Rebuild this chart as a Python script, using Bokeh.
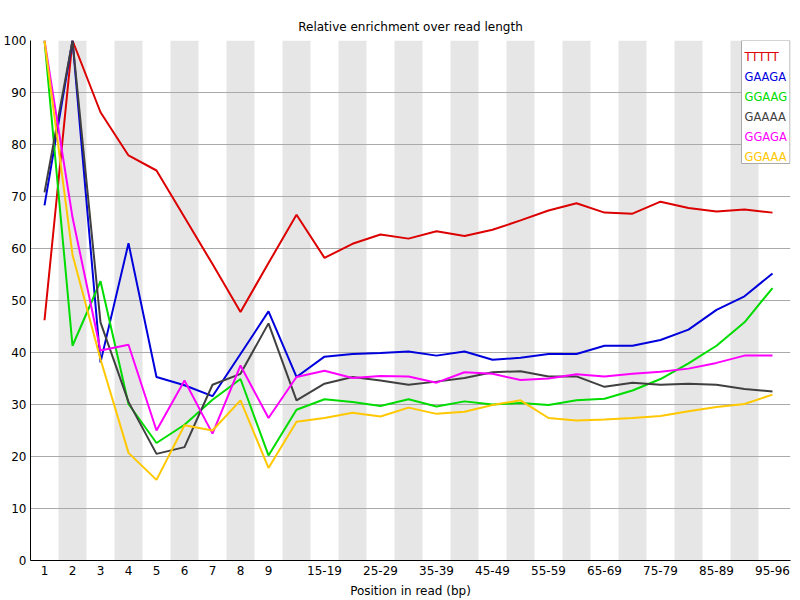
import numpy as np
from bokeh.plotting import figure
from bokeh.models import Range1d, FixedTicker, SingleIntervalTicker, ColumnDataSource
from bokeh.core.properties import value
from bokeh.embed import file_html
from bokeh.resources import INLINE

FONT = "DejaVu Sans"

# ---- data ----
categories = ["1", "2", "3", "4", "5", "6", "7", "8", "9",
              "10-14", "15-19", "20-24", "25-29", "30-34", "35-39", "40-44",
              "45-49", "50-54", "55-59", "60-64", "65-69", "70-74", "75-79",
              "80-84", "85-89", "90-94", "95-96"]
tick_labels = ["1", "2", "3", "4", "5", "6", "7", "8", "9", "15-19", "25-29",
               "35-39", "45-49", "55-59", "65-69", "75-79", "85-89", "95-96"]

kmers = ["TTTTT", "GAAGA", "GGAAG", "GAAAA", "GGAGA", "GGAAA"]
colors = ["#dc0000", "#0000dc", "#00dc00", "#404040", "#ff00ff", "#ffc800"]

TTTTT = [46.2, 100, 86.2, 77.9, 75.0, 66.0, 57.0, 47.8, 57.2, 66.5, 58.2, 60.9, 62.7, 61.9,
         63.3, 62.4, 63.6, 65.4, 67.3, 68.7, 66.9, 66.7, 69.0, 67.8, 67.1, 67.5, 66.9]
GAAGA = [68.3, 100, 38.1, 61.0, 35.3, 33.7, 31.6, 39.7, 47.9, 35.3, 39.2, 39.7, 39.9, 40.2,
         39.4, 40.2, 38.6, 39.0, 39.7, 39.7, 41.3, 41.3, 42.4, 44.4, 48.2, 50.8, 55.2]
GGAAG = [100, 41.3, 53.7, 30.1, 22.6, 26.1, 30.9, 34.9, 20.2, 29.0, 31.0, 30.5, 29.7, 31.0,
         29.6, 30.6, 30.0, 30.3, 29.9, 30.8, 31.1, 32.7, 34.9, 37.9, 41.3, 45.8, 52.4]
GAAAA = [70.8, 100, 45.8, 30.5, 20.5, 21.8, 33.8, 35.9, 45.6, 30.8, 34.0, 35.3, 34.6, 33.8,
         34.4, 35.1, 36.2, 36.4, 35.4, 35.4, 33.4, 34.2, 33.8, 34.0, 33.8, 33.0, 32.5]
GGAGA = [100, 66.0, 40.4, 41.5, 25.0, 34.6, 24.4, 37.5, 27.4, 35.3, 36.5, 35.1, 35.5, 35.4,
         34.2, 36.2, 35.9, 34.7, 35.0, 35.8, 35.4, 35.9, 36.3, 36.9, 38.0, 39.4, 39.4]
GGAAA = [100, 58.8, 38.7, 20.7, 15.5, 26.0, 25.0, 30.8, 17.8, 26.7, 27.4, 28.4, 27.7, 29.4,
         28.2, 28.6, 29.9, 30.8, 27.4, 26.9, 27.1, 27.4, 27.8, 28.7, 29.5, 30.1, 31.9]
series = [TTTTT, GAAGA, GGAAG, GAAAA, GGAGA, GGAAA]

n = len(categories)
pos = np.arange(1, n + 1)

p = figure(width=800, height=600, output_backend="svg", toolbar_location=None,
           x_range=Range1d(0.5, 0.5 + 760 / 28), y_range=Range1d(0, 100),
           min_border_left=30, min_border_right=10, min_border_top=40, min_border_bottom=40,
           title="Relative enrichment over read length")
p.outline_line_color = None
p.background_fill_color = "white"
p.border_fill_color = "white"

p.title.align = "center"
p.title.text_font = FONT
p.title.text_font_size = "12px"
p.title.text_font_style = "normal"
p.title.text_color = "black"
p.title.standoff = 13

# alternating background bands
band_pos = pos[1::2]
p.quad(left=band_pos - 0.5, right=band_pos + 0.5, bottom=0, top=100,
       fill_color="#e6e6e6", line_color=None, level="underlay")

p.xgrid.visible = False
p.ygrid.ticker = SingleIntervalTicker(interval=10)
p.ygrid.grid_line_color = "#aaaaaa"
p.ygrid.grid_line_width = 1
p.ygrid.level = "underlay"

# axes
tick_pos = [int(pos[categories.index(t)]) for t in tick_labels]
p.xaxis.ticker = FixedTicker(ticks=tick_pos)
p.xaxis.major_label_overrides = {tp: t for tp, t in zip(tick_pos, tick_labels)}
p.xaxis.axis_label = "Position in read (bp)"
p.yaxis.ticker = SingleIntervalTicker(interval=10)
for ax in (p.xaxis[0], p.yaxis[0]):
    ax.axis_line_color = "black"
    ax.major_tick_line_color = None
    ax.minor_tick_line_color = None
    ax.major_tick_out = 0
    ax.major_tick_in = 0
    ax.major_label_text_font = FONT
    ax.major_label_text_font_size = "12px"
    ax.major_label_text_color = "black"
    ax.axis_label_text_font = FONT
    ax.axis_label_text_font_size = "12px"
    ax.axis_label_text_font_style = "normal"
    ax.axis_label_text_color = "black"
p.yaxis.major_label_standoff = 0
p.xaxis.major_label_standoff = 5
p.xaxis.axis_label_standoff = 6

for vals, col in zip(series, colors):
    p.line(pos, vals, line_color=col, line_width=2)

# legend box (text only, coloured like the series)
x_end = 0.5 + 760 / 28
p.quad(left=x_end - 49 / 28, right=x_end - 0.02, top=100, bottom=100 - 123 / 5.2,
       fill_color="white", line_color="#aaaaaa", line_width=1)
leg = ColumnDataSource(dict(
    x=[x_end - 46 / 28] * len(kmers),
    y=[100 - (16 + 20.14 * i) / 5.2 for i in range(len(kmers))],
    text=kmers, color=colors))
p.text(x="x", y="y", text="text", text_color="color", source=leg,
       text_font=value(FONT), text_font_size="11.5px", text_baseline="alphabetic",
       text_align="left")

open("out.html", "w").write(file_html(p, INLINE))
